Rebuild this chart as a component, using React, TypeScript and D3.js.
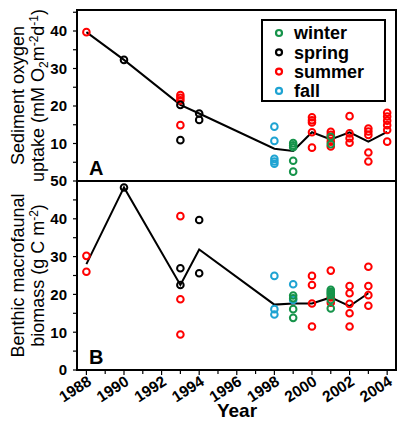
import React from 'react';
import * as d3 from 'd3';

// seasons and their colours
const seasons = ['winter', 'spring', 'summer', 'fall'];
const seasonColors: Record<string, string> = {
  winter: '#16934a',
  spring: '#000000',
  summer: '#ff0000',
  fall: '#1ea3d2',
};

// panel A: sediment oxygen uptake, [year, value]
const uptakeWinter = [[1999, 10.1], [1999, 9.5], [1999, 9.0], [1999, 5.4], [1999, 2.5], [2001, 11.8], [2001, 9.8]];
const uptakeSpring = [[1990, 32.3], [1993, 20.3], [1993, 10.9], [1994, 18.0], [1994, 16.3]];
const uptakeSummer = [
  [1988, 39.7], [1993, 22.9], [1993, 22.2], [1993, 21.5], [1993, 14.9],
  [2000, 17.0], [2000, 16.2], [2000, 15.6], [2000, 13.0], [2000, 8.9],
  [2001, 13.1], [2001, 12.3], [2001, 11.4], [2001, 10.5], [2001, 9.2],
  [2002, 17.3], [2002, 12.7], [2002, 11.4], [2002, 10.2],
  [2003, 14.0], [2003, 13.2], [2003, 12.3], [2003, 7.6], [2003, 5.2],
  [2004, 18.2], [2004, 17.2], [2004, 16.1], [2004, 14.9], [2004, 13.6], [2004, 10.5],
];
const uptakeFall = [[1998, 14.5], [1998, 10.7], [1998, 5.9], [1998, 5.2], [1998, 4.6]];
const uptakeMeanYears = [1988, 1990, 1993, 1994, 1998, 1999, 2000, 2001, 2002, 2003, 2004];
const uptakeMean = [39.7, 32.3, 20.3, 18.0, 8.6, 8.0, 13.0, 11.1, 13.0, 10.5, 13.1];

// panel B: benthic macrofaunal biomass, [year, value]
const biomassWinter = [[1999, 19.7], [1999, 19.0], [1999, 16.1], [1999, 13.8], [2001, 21.2], [2001, 20.7], [2001, 20.3], [2001, 19.8], [2001, 18.5], [2001, 16.3]];
const biomassSpring = [[1990, 48.3], [1993, 26.9], [1993, 22.5], [1994, 39.7], [1994, 25.6]];
const biomassSummer = [
  [1988, 30.2], [1988, 26.0], [1993, 40.7], [1993, 18.7], [1993, 9.4],
  [2000, 24.9], [2000, 22.5], [2000, 17.6], [2000, 11.5],
  [2001, 26.3], [2001, 19.2], [2001, 17.8],
  [2002, 22.2], [2002, 20.3], [2002, 17.5], [2002, 15.0], [2002, 11.5],
  [2003, 27.3], [2003, 22.2], [2003, 19.8], [2003, 17.0],
];
const biomassFall = [[1998, 24.9], [1998, 16.1], [1998, 14.7], [1999, 22.7], [1999, 18.5]];
const biomassMeanYears = [1988, 1990, 1993, 1994, 1998, 1999, 2000, 2001, 2002, 2003];
const biomassMean = [28.0, 48.3, 22.5, 31.9, 17.3, 17.6, 17.6, 19.2, 16.9, 20.3];

const yearTicks = [1988, 1990, 1992, 1994, 1996, 1998, 2000, 2002, 2004];
const uptakeTicks = [10, 20, 30, 40];
const biomassTicks = [0, 10, 20, 30, 40, 50];

const W = 398;
const H = 422;
const left = 77;
const right = 396;
const top = 10;
const mid = 181;
const bottom = 370;
const font = 'Liberation Sans, Arial, sans-serif';

export default function App() {
  const x = d3.scaleLinear().domain([1987.5, 2004.47]).range([left, right]);
  const yA = d3.scaleLinear().domain([0, 45.6]).range([mid, top]);
  const yB = d3.scaleLinear().domain([0, 50]).range([bottom, mid]);

  const lineA = d3.line<number>().x((d, i) => x(uptakeMeanYears[i])).y((d) => yA(d));
  const lineB = d3.line<number>().x((d, i) => x(biomassMeanYears[i])).y((d) => yB(d));

  const groupsA = [
    ['fall', uptakeFall], ['summer', uptakeSummer], ['spring', uptakeSpring], ['winter', uptakeWinter],
  ] as [string, number[][]][];
  const groupsB = [
    ['fall', biomassFall], ['summer', biomassSummer], ['spring', biomassSpring], ['winter', biomassWinter],
  ] as [string, number[][]][];

  const dots = (groups: [string, number[][]][], y: d3.ScaleLinear<number, number>, key: string) =>
    groups.map(([s, pts]) =>
      pts.map((p, i) => (
        <circle key={`${key}-${s}-${i}`} cx={x(p[0])} cy={y(p[1])} r={3.3}
          fill="none" stroke={seasonColors[s]} strokeWidth={2} />
      ))
    );

  const minorA = d3.range(5, 46, 5);
  const minorB = d3.range(5, 50, 10);
  const allYears = d3.range(1988, 2005);

  return (
    <svg width={W} height={H} style={{ position: 'absolute', left: 0, top: 0, background: '#fff' }}
      fontFamily={font}>
      {/* y ticks, panel A */}
      {minorA.map((v) => (
        <line key={`ma${v}`} x1={left - 4} x2={left} y1={yA(v)} y2={yA(v)} stroke="#000" strokeWidth={1.2} />
      ))}
      {uptakeTicks.map((v) => (
        <text key={`ta${v}`} x={left - 10} y={yA(v)} dy="0.36em" textAnchor="end" fontSize={15} fontWeight="bold">{v}</text>
      ))}
      {/* y ticks, panel B */}
      {minorB.map((v) => (
        <line key={`mb${v}`} x1={left - 4} x2={left} y1={yB(v)} y2={yB(v)} stroke="#000" strokeWidth={1.2} />
      ))}
      {biomassTicks.map((v) => (
        <g key={`tb${v}`}>
          <line x1={left - 4} x2={left} y1={yB(v)} y2={yB(v)} stroke="#000" strokeWidth={1.2} />
          <text x={left - 10} y={yB(v)} dy="0.36em" textAnchor="end" fontSize={15} fontWeight="bold">{v}</text>
        </g>
      ))}
      {/* x ticks */}
      {allYears.map((yr) => (
        <line key={`xt${yr}`} x1={x(yr)} x2={x(yr)} y1={bottom} y2={bottom + (yr % 2 === 0 ? 5 : 4)} stroke="#000" strokeWidth={1.2} />
      ))}
      {yearTicks.map((yr) => (
        <text key={`xl${yr}`} transform={`translate(${x(yr) + 6},${bottom + 14}) rotate(-33)`}
          textAnchor="end" fontSize={15.5} fontWeight="bold">{yr}</text>
      ))}
      <text x={237} y={417} textAnchor="middle" fontSize={19} fontWeight="bold">Year</text>

      {/* y titles */}
      <text transform={`translate(24,${(top + mid) / 2}) rotate(-90)`} textAnchor="middle" fontSize={18}>Sediment oxygen</text>
      <text transform={`translate(44,${(top + mid) / 2}) rotate(-90)`} textAnchor="middle" fontSize={18}>
        uptake (mM O<tspan fontSize={12} dy={4}>2</tspan><tspan dy={-4}>m</tspan><tspan fontSize={12} dy={-6}>-2</tspan><tspan dy={6}>d</tspan><tspan fontSize={12} dy={-6}>-1</tspan><tspan dy={6}>)</tspan>
      </text>
      <text transform={`translate(24,${(mid + bottom) / 2}) rotate(-90)`} textAnchor="middle" fontSize={18}>Benthic macrofaunal</text>
      <text transform={`translate(44,${(mid + bottom) / 2}) rotate(-90)`} textAnchor="middle" fontSize={18}>
        biomass (g C m<tspan fontSize={12} dy={-6}>-2</tspan><tspan dy={6}>)</tspan>
      </text>

      {/* mean lines */}
      <path d={lineA(uptakeMean) || ''} fill="none" stroke="#000" strokeWidth={2} />
      <path d={lineB(biomassMean) || ''} fill="none" stroke="#000" strokeWidth={2} />

      {dots(groupsA, yA, 'a')}
      {dots(groupsB, yB, 'b')}

      {/* panel letters */}
      <text x={89} y={175} fontSize={20} fontWeight="bold">A</text>
      <text x={89} y={364} fontSize={20} fontWeight="bold">B</text>

      {/* frame */}
      <rect x={left} y={top} width={right - left} height={bottom - top} fill="none" stroke="#000" strokeWidth={2} />
      <line x1={left} x2={right} y1={mid} y2={mid} stroke="#000" strokeWidth={2} />

      {/* legend */}
      <rect x={262} y={20} width={123} height={81} fill="#fff" stroke="#000" strokeWidth={2} />
      {seasons.map((s, i) => (
        <g key={s}>
          <circle cx={279} cy={33 + i * 19.3} r={3} fill="none" stroke={seasonColors[s]} strokeWidth={2.2} />
          <text x={294} y={33 + i * 19.3} dy="0.36em" fontSize={18} fontWeight="bold">{s}</text>
        </g>
      ))}
    </svg>
  );
}
